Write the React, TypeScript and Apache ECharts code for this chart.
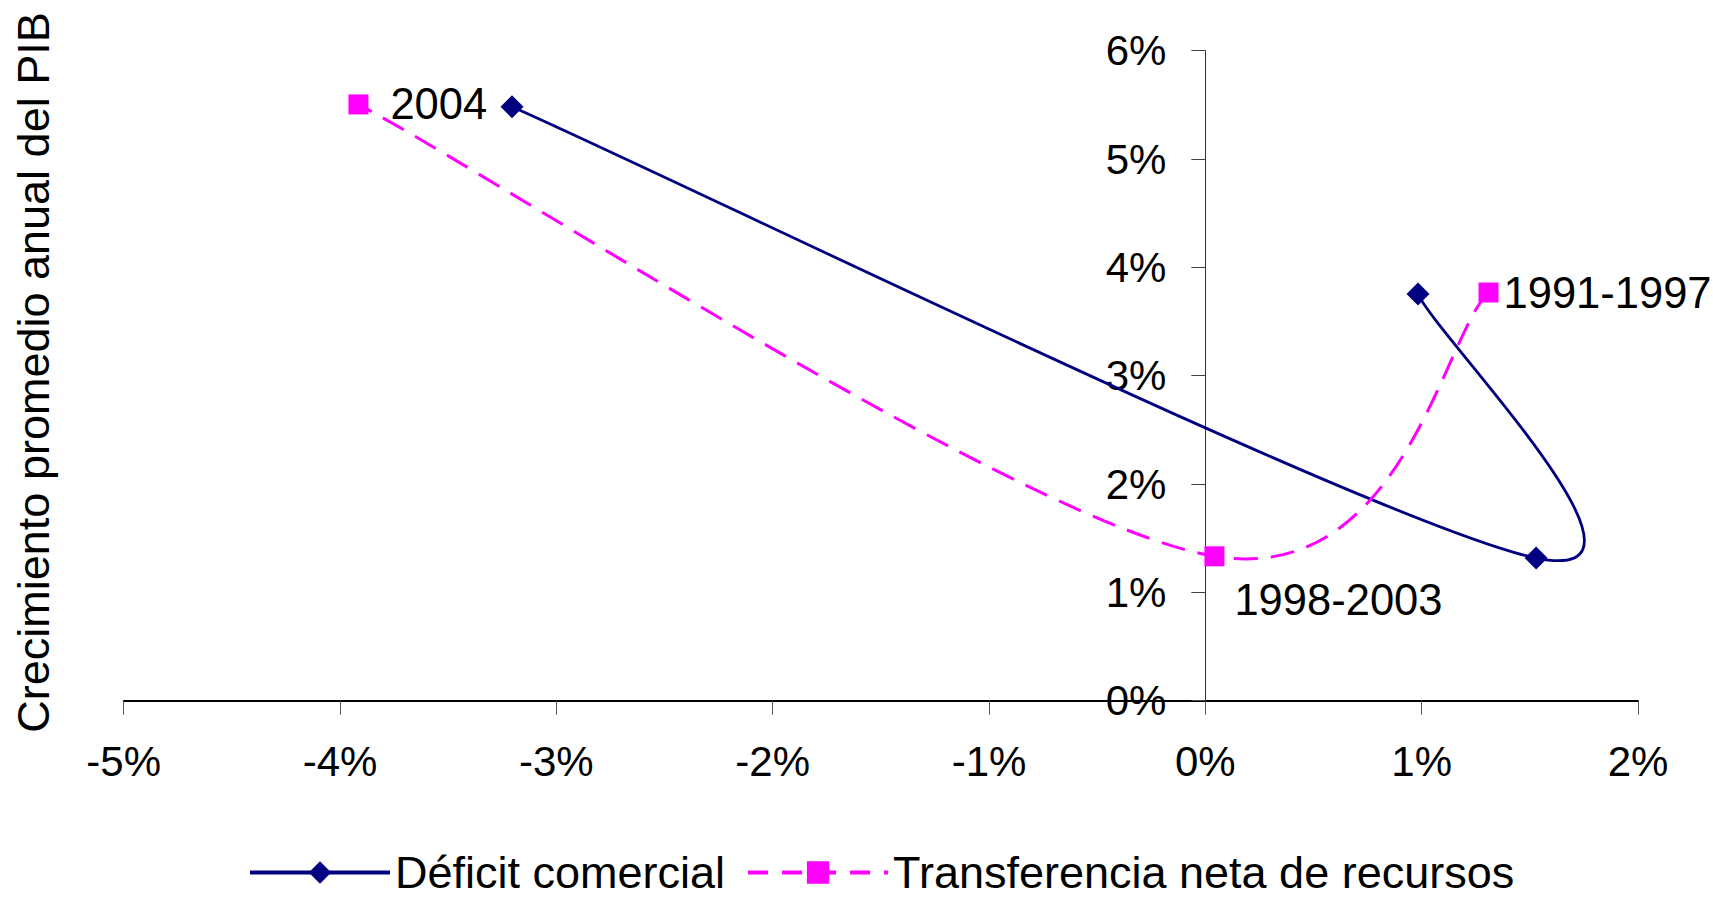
import React, { useEffect, useRef } from "react";
import * as echarts from "echarts";

// Periods (data labels)
const periods = ["1991-1997", "1998-2003", "2004"];

// Déficit comercial (% del PIB) vs crecimiento promedio anual del PIB (%)
const deficitX = [0.983, 1.529, -3.205];
const deficitY = [3.754, 1.317, 5.483];

// Transferencia neta de recursos (% del PIB) vs crecimiento (%)
const transferX = [1.309, 0.042, -3.915];
const transferY = [3.768, 1.333, 5.504];

const xTicks = { min: -5, max: 2, interval: 1 };
const yTicks = { min: 0, max: 6, interval: 1 };

const seriesNames = ["Déficit comercial", "Transferencia neta de recursos"];
const yAxisTitle = "Crecimiento promedio anual del PIB";

const FONT = '"Liberation Sans", Arial, Helvetica, sans-serif';
const NAVY = "#000080";
const MAGENTA = "#FF00FF";

const W = 1713;
const H = 899;
const GRID = { left: 123.7, right: 75, top: 50.7, bottom: 198.3 };

function smoothPath(pts: number[][]): string {
  const n = pts.length;
  let d = `M${pts[0][0]},${pts[0][1]}`;
  for (let i = 0; i < n - 1; i++) {
    const p0 = pts[Math.max(i - 1, 0)];
    const p1 = pts[i];
    const p2 = pts[i + 1];
    const p3 = pts[Math.min(i + 2, n - 1)];
    const c1x = p1[0] + (p2[0] - p0[0]) / 6;
    const c1y = p1[1] + (p2[1] - p0[1]) / 6;
    const c2x = p2[0] - (p3[0] - p1[0]) / 6;
    const c2y = p2[1] - (p3[1] - p1[1]) / 6;
    d += ` C${c1x},${c1y} ${c2x},${c2y} ${p2[0]},${p2[1]}`;
  }
  return d;
}

function curveSeries(xs: number[], ys: number[], color: string, width: number, dash: number[] | null) {
  return {
    type: "custom",
    name: "_curve_" + color,
    silent: true,
    z: 1,
    data: xs.map((x, i) => [x, ys[i]]),
    encode: { x: 0, y: 1 },
    renderItem: (params: any, api: any) => {
      if (params.dataIndex !== 0) return null;
      const pts = xs.map((x, i) => api.coord([x, ys[i]]));
      const style: any = { fill: "none", stroke: color, lineWidth: width };
      if (dash) style.lineDash = dash;
      return { type: "path", shape: { pathData: smoothPath(pts) }, style };
    },
  };
}

export default function App() {
  const ref = useRef<HTMLDivElement>(null);

  useEffect(() => {
    if (!ref.current) return;
    const chart = echarts.init(ref.current, null, { renderer: "svg" });

    const labelStyle = { color: "#000", fontSize: 43.5, fontFamily: FONT };
    const gridWidth = W - GRID.left - GRID.right;
    // place the y axis where x = 0
    const yAxisOffset = -((0 - xTicks.min) / (xTicks.max - xTicks.min)) * gridWidth;

    const option: any = {
      animation: false,
      backgroundColor: "#fff",
      grid: { ...GRID, containLabel: false },
      xAxis: {
        type: "value",
        min: xTicks.min,
        max: xTicks.max,
        interval: xTicks.interval,
        axisLine: { show: true, onZero: false, lineStyle: { color: "#000", width: 2 } },
        axisTick: { show: true, inside: false, length: 14, lineStyle: { color: "#555", width: 1 } },
        axisLabel: {
          margin: 40,
          formatter: "{value}%",
          color: "#000",
          fontSize: 42,
          fontFamily: FONT,
        },
        splitLine: { show: false },
      },
      yAxis: {
        type: "value",
        position: "left",
        offset: yAxisOffset,
        min: yTicks.min,
        max: yTicks.max,
        interval: yTicks.interval,
        axisLine: { show: true, onZero: false, lineStyle: { color: "#333", width: 1 } },
        axisTick: { show: true, inside: false, length: 14, lineStyle: { color: "#444", width: 1 } },
        axisLabel: {
          margin: 39,
          formatter: "{value}%",
          color: "#000",
          fontSize: 42,
          fontFamily: FONT,
        },
        splitLine: { show: false },
      },
      legend: {
        left: 243,
        top: 845,
        itemWidth: 140,
        itemHeight: 28,
        itemGap: 21,
        textStyle: { color: "#000", fontSize: 45, fontFamily: FONT },
        data: [
          { name: seriesNames[0], lineStyle: { color: NAVY, width: 4, opacity: 1, type: "solid" } },
          { name: seriesNames[1], lineStyle: { color: MAGENTA, width: 4, opacity: 1, type: [20, 14] } },
        ],
      },
      graphic: [
        {
          type: "text",
          x: 33,
          y: 372.5,
          rotation: Math.PI / 2,
          style: {
            text: yAxisTitle,
            fill: "#000",
            fontSize: 45,
            fontFamily: FONT,
            align: "center",
            verticalAlign: "middle",
          },
        },
      ],
      series: [
        curveSeries(deficitX, deficitY, NAVY, 2.8, null),
        curveSeries(transferX, transferY, MAGENTA, 3, [24, 13]),
        {
          type: "line",
          name: seriesNames[0],
          z: 3,
          data: deficitX.map((x, i) => [x, deficitY[i]]),
          symbol: "diamond",
          symbolSize: 23,
          showSymbol: true,
          lineStyle: { color: NAVY, width: 2.8, opacity: 0 },
          itemStyle: { color: NAVY },
          label: { show: false },
        },
        {
          type: "line",
          name: seriesNames[1],
          z: 3,
          data: transferX.map((x, i) => {
            const base: any = { value: [x, transferY[i]] };
            if (i === 0) base.label = { show: true, position: "right", distance: 5, formatter: periods[0], ...labelStyle };
            if (i === 1) base.label = { show: true, position: "right", distance: 5, offset: [5, 44], formatter: periods[1], ...labelStyle };
            if (i === 2) base.label = { show: true, position: "right", distance: 22, formatter: periods[2], ...labelStyle };
            return base;
          }),
          symbol: "rect",
          symbolSize: 20,
          showSymbol: true,
          lineStyle: { color: MAGENTA, width: 3, type: [24, 13], opacity: 0 },
          itemStyle: { color: MAGENTA },
          label: { show: false },
        },
      ],
    };

    chart.setOption(option);
    return () => chart.dispose();
  }, []);

  return (
    <div
      ref={ref}
      style={{ position: "fixed", left: 0, top: 0, width: W, height: H, background: "#fff" }}
    />
  );
}
